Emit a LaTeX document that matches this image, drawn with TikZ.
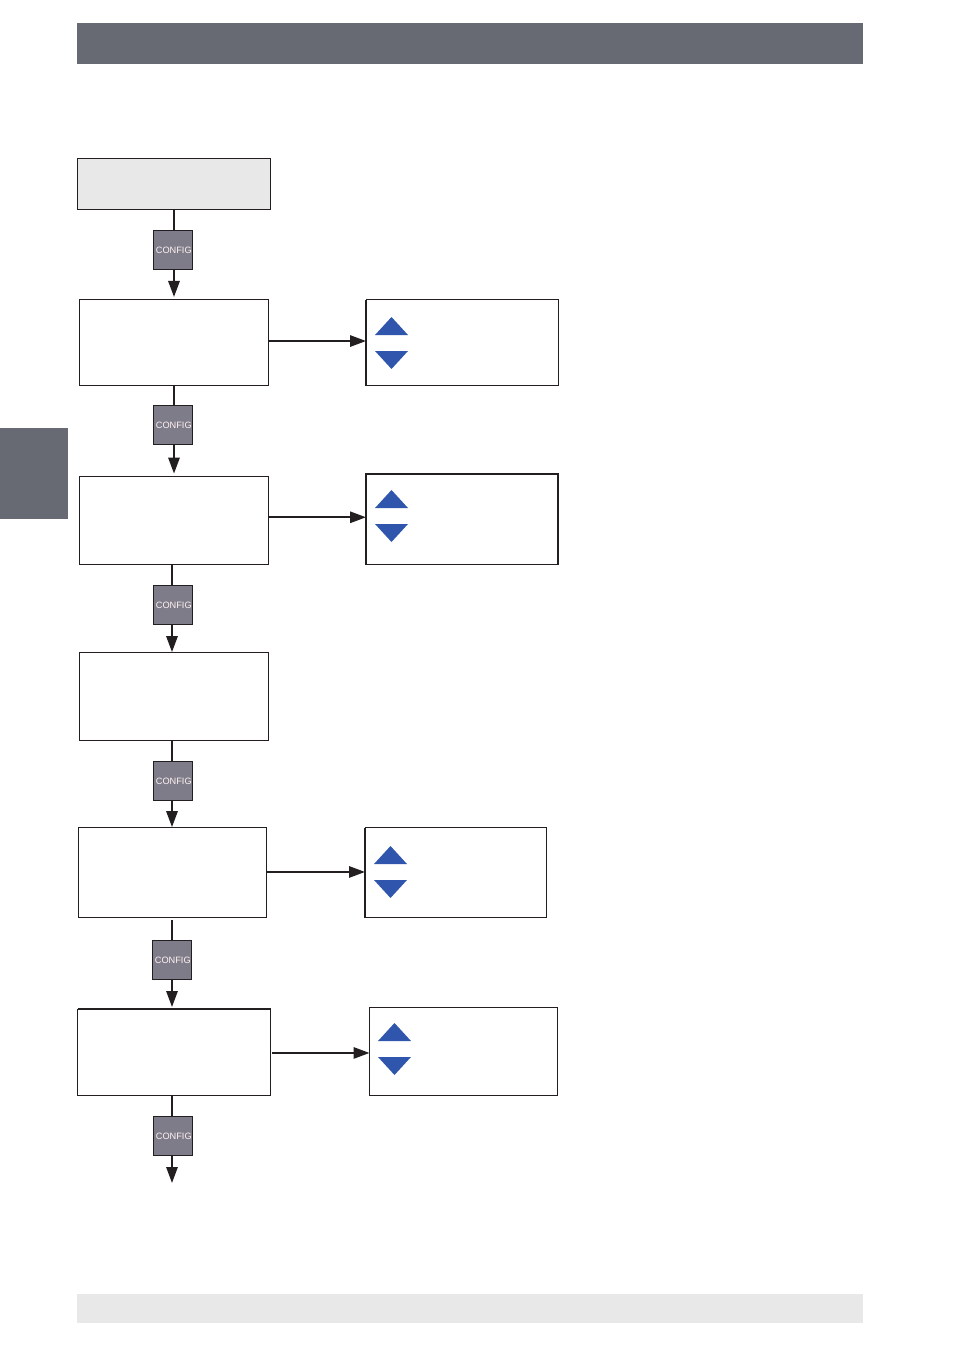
\documentclass[tikz,border=0pt]{standalone}
\usepackage{fontspec}
\setsansfont{Liberation Sans}
\usetikzlibrary{arrows.meta}
\definecolor{bandgrey}{HTML}{676A73}
\definecolor{palegrey}{HTML}{E8E8E8}
\definecolor{keygrey}{HTML}{7F7C8A}
\definecolor{keyblue}{HTML}{2F56AC}
\definecolor{inkblack}{HTML}{231F20}
\tikzset{
  menubox/.style={draw=inkblack,line width=0.75pt,fill=white,inner sep=0pt,outer sep=0pt,anchor=north west},
  configkey/.style={draw=inkblack,line width=0.9pt,fill=keygrey,inner sep=0pt,outer sep=0pt,minimum size=29pt,text=white!95!red,execute at begin node={\hspace{1.2pt}},font=\sffamily\fontsize{6.9}{7}\selectfont},
  band/.style={inner sep=0pt,outer sep=0pt,anchor=north west},
  flow/.style={inkblack,line width=1.5pt,-{Triangle[length=12pt,width=8.5pt]}},
  flowplain/.style={inkblack,line width=1.5pt},
  heavyedge/.style={inkblack,line width=1.4pt}
}
\begin{document}
\begin{tikzpicture}[x=0.75pt,y=-0.75pt]
  \useasboundingbox (0,0) rectangle (953,1352);
  \node[band,fill=bandgrey,minimum width=589.5pt,minimum height=30.75pt] (header) at (77,23) {};
  \node[band,fill=bandgrey,minimum width=51pt,minimum height=68.25pt] (tab) at (0,428) {};
  \node[band,fill=palegrey,minimum width=589.5pt,minimum height=21.75pt] (footer) at (77,1294) {};
  % left column
  \node[menubox,fill=palegrey,minimum width=144.75pt,minimum height=38.25pt] (start) at (77.5,158.5) {};
  \node[menubox,minimum width=141.75pt,minimum height=64.5pt] (menua) at (79.5,299.5) {};
  \node[menubox,minimum width=141.75pt,minimum height=66pt] (menub) at (79.5,476.5) {};
  \node[menubox,minimum width=141.75pt,minimum height=66pt] (menuc) at (79.5,652.5) {};
  \node[menubox,minimum width=141pt,minimum height=67.5pt] (menud) at (78.5,827.5) {};
  \node[menubox,minimum width=144.75pt,minimum height=64.9pt] (menue) at (77.5,1009) {};
  % right column
  \node[menubox,minimum width=144.4pt,minimum height=64.5pt] (seta) at (366,299.5) {};
  \node[menubox,line width=1pt,minimum width=144pt,minimum height=67.9pt] (setb) at (366,474) {};
  \node[menubox,minimum width=136.4pt,minimum height=67.5pt] (setd) at (365,827.5) {};
  \node[menubox,minimum width=140.8pt,minimum height=66pt] (sete) at (369.5,1007.5) {};
  \foreach \bx in {seta,setb,setd}
    \draw[heavyedge] (\bx.north west) -- (\bx.south west);
  \draw[heavyedge] (menue.north west) -- (menue.north east);
  % config keys
  \node[configkey] (keya) at (173,250) {CONFIG};
  \node[configkey] (keyb) at (173,425.2) {CONFIG};
  \node[configkey] (keyc) at (173,605) {CONFIG};
  \node[configkey] (keyd) at (173,781) {CONFIG};
  \node[configkey] (keye) at (172,960) {CONFIG};
  \node[configkey] (keyf) at (173,1136) {CONFIG};
  \coordinate (endf) at (172,1183);
  % connectors
  \draw[flowplain] ([xshift=0.75pt]keya |- start.south) -- ([xshift=0.75pt]keya.north);
  \draw[flow] ([xshift=0.75pt]keya.south) -- ([xshift=0.75pt,yshift=1.9pt]keya |- menua.north);
  \draw[flowplain] ([xshift=0.75pt]keyb |- menua.south) -- ([xshift=0.75pt]keyb.north);
  \draw[flow] ([xshift=0.75pt]keyb.south) -- ([xshift=0.75pt,yshift=2.2pt]keyb |- menub.north);
  \draw[flowplain] ([xshift=-0.75pt]keyc |- menub.south) -- ([xshift=-0.75pt]keyc.north);
  \draw[flow] ([xshift=-0.75pt]keyc.south) -- ([xshift=-0.75pt,yshift=0.3pt]keyc |- menuc.north);
  \draw[flowplain] ([xshift=-0.75pt]keyd |- menuc.south) -- ([xshift=-0.75pt]keyd.north);
  \draw[flow] ([xshift=-0.75pt]keyd.south) -- ([xshift=-0.75pt,yshift=0.3pt]keyd |- menud.north);
  \draw[flowplain] ([yshift=-2pt]keye |- menud.south) -- (keye);
  \draw[flow] (keye) -- ([yshift=1.5pt]keye |- menue.north);
  \draw[flowplain] ([xshift=-0.75pt]keyf |- menue.south) -- ([xshift=-0.75pt]keyf.north);
  \draw[flow] ([xshift=-0.75pt]keyf.south) -- (endf);
  \draw[flow] ([yshift=1.1pt]menua.east |- seta) -- ([yshift=1.1pt]seta.west);
  \draw[flow] ([yshift=1.5pt]menub.east |- setb) -- ([yshift=1.5pt]setb.west);
  \draw[flow] ([yshift=0.4pt]menud.east |- setd) -- ([yshift=0.4pt]setd.west);
  \draw[flow] ([xshift=0.9pt,yshift=-1.1pt]menue.east |- sete) -- ([yshift=-1.1pt]sete.west);
  % up and down triangles
  \foreach \tx/\ty in {375/317,375/490,374/846,378/1023} {
    \fill[keyblue] (\tx,\ty+18) -- (\tx+16.5,\ty) -- (\tx+33,\ty+18) -- cycle;
    \fill[keyblue] (\tx,\ty+34) -- (\tx+33,\ty+34) -- (\tx+16.5,\ty+52) -- cycle;
  }
\end{tikzpicture}
\end{document}
